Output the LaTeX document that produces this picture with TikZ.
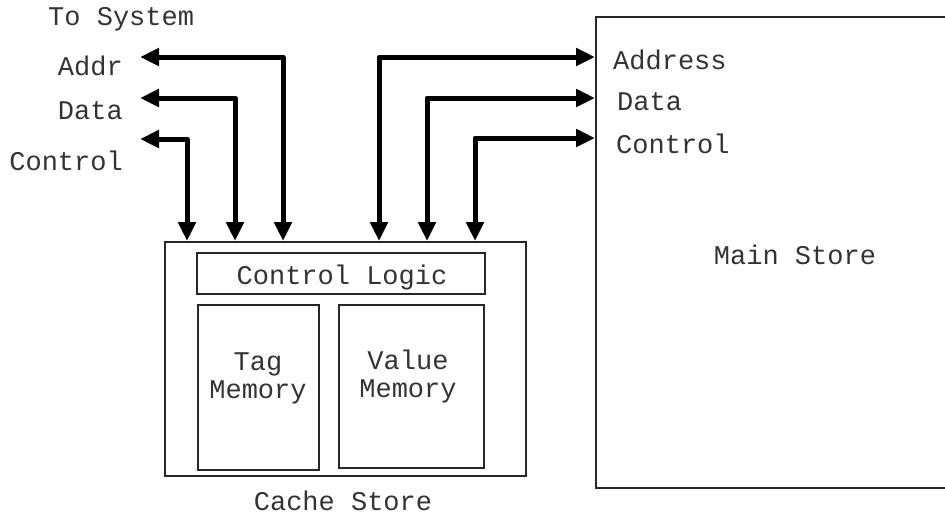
\documentclass[tikz,border=0pt]{standalone}
\usepackage{fontspec}
\setmainfont{Liberation Mono}
\usetikzlibrary{arrows.meta}
\begin{document}
\begin{tikzpicture}[x=1pt,y=-1pt,
  box/.style={draw=black!85, line width=1.5pt, inner sep=0pt, anchor=north west},
  lbl/.style={inner sep=0pt, text=black!80, font=\fontsize{27}{28}\selectfont},
  bus/.style={line width=5pt, line join=round,
    {Triangle[length=19pt,width=17pt]}-{Triangle[length=19pt,width=17pt]}}]
\useasboundingbox (0,0) rectangle (945,517);

% cache store and its parts
\node[box, minimum width=361pt, minimum height=234pt] (cache) at (164,241) {};
\node[box, minimum width=288pt, minimum height=41pt] (logic) at (196,252) {};
\node[box, minimum width=121pt, minimum height=165pt] (tag) at (197,304) {};
\node[box, minimum width=145pt, minimum height=163pt] (value) at (338,304) {};

% main store (runs off the right edge)
\node[box, minimum width=400pt, minimum height=471pt] (main) at (595,16) {};

% texts inside the boxes
\node[lbl, anchor=base] (logict) at (342,284) {Control Logic};
\node[lbl, anchor=base] (tagt1) at (258,370) {Tag};
\node[lbl, anchor=base] (tagt2) at (258,398) {Memory};
\node[lbl, anchor=base] (valt1) at (408,369) {Value};
\node[lbl, anchor=base] (valt2) at (408,397) {Memory};
\node[lbl, anchor=base] (cachet) at (343,510) {Cache Store};
\node[lbl, anchor=base] (maint) at (795,264) {Main Store};

% system side labels
\node[lbl, anchor=base west] (syst) at (48,25) {To System};
\node[lbl, anchor=base east] (addrt) at (123,75) {Addr};
\node[lbl, anchor=base east] (datat) at (123,119) {Data};
\node[lbl, anchor=base east] (ctrlt) at (123,170) {Control};

% main store port labels
\node[lbl, anchor=base west] (maddr) at (613,69) {Address};
\node[lbl, anchor=base west] (mdata) at (617,110) {Data};
\node[lbl, anchor=base west] (mctrl) at (616,153) {Control};

% free ends of the system buses
\coordinate (sysA) at (140,57);
\coordinate (sysD) at (140,98);
\coordinate (sysC) at (140,139);

% buses to the system
\draw[bus] (sysA) -| ([xshift=119pt]cache.north west);
\draw[bus] (sysD) -| ([xshift=71pt]cache.north west);
\draw[bus] (sysC) -| ([xshift=23pt]cache.north west);

% buses to the main store
\draw[bus] ([xshift=215pt]cache.north west) |- ([yshift=-41pt]main.north west);
\draw[bus] ([xshift=263pt]cache.north west) |- ([yshift=-82pt]main.north west);
\draw[bus] ([xshift=311pt]cache.north west) |- ([yshift=-122pt]main.north west);
\end{tikzpicture}
\end{document}
